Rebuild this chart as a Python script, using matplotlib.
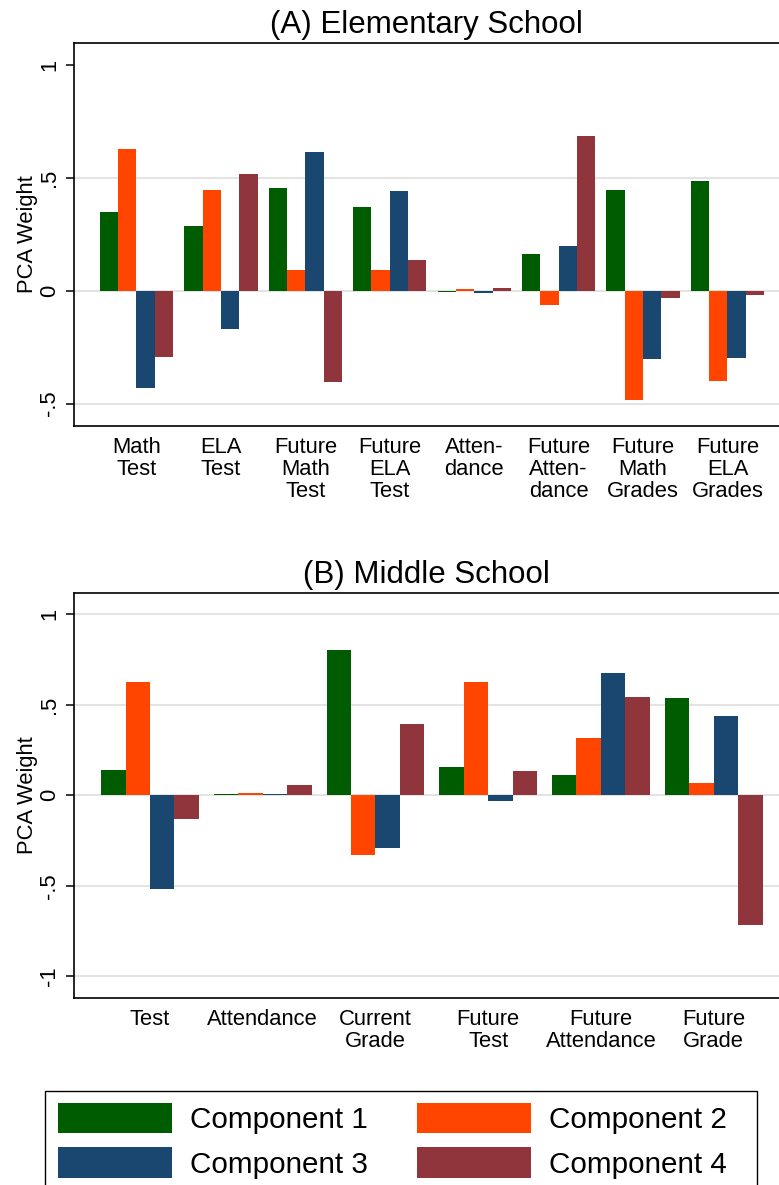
import matplotlib
matplotlib.use("Agg")
import matplotlib.pyplot as plt
from matplotlib.patches import Rectangle, Patch
import numpy as np

plt.rcParams['font.family'] = ['Liberation Sans', 'DejaVu Sans']

components = ['Component 1', 'Component 2', 'Component 3', 'Component 4']
colors = ['#005c00', '#ff4500', '#1a476f', '#90353b']

# (A) elementary school loadings
elem_labels = ['Math\nTest', 'ELA\nTest', 'Future\nMath\nTest', 'Future\nELA\nTest',
               'Atten-\ndance', 'Future\nAtten-\ndance', 'Future\nMath\nGrades', 'Future\nELA\nGrades']
elem_c1 = [0.348, 0.286, 0.454, 0.370, -0.006, 0.162, 0.446, 0.485]
elem_c2 = [0.627, 0.446, 0.093, 0.093, 0.009, -0.063, -0.484, -0.400]
elem_c3 = [-0.429, -0.172, 0.614, 0.441, -0.010, 0.199, -0.302, -0.298]
elem_c4 = [-0.292, 0.516, -0.403, 0.137, 0.013, 0.684, -0.032, -0.019]

# (B) middle school loadings
mid_labels = ['Test', 'Attendance', 'Current\nGrade', 'Future\nTest', 'Future\nAttendance', 'Future\nGrade']
mid_c1 = [0.141, 0.007, 0.805, 0.156, 0.114, 0.538]
mid_c2 = [0.626, 0.013, -0.328, 0.628, 0.318, 0.070]
mid_c3 = [-0.516, 0.005, -0.291, -0.030, 0.676, 0.438]
mid_c4 = [-0.129, 0.057, 0.394, 0.136, 0.543, -0.715]

elem_ticks = [1, 0.5, 0, -0.5]
elem_ticklabels = ['1', '.5', '0', '-.5']
mid_ticks = [1, 0.5, 0, -0.5, -1]
mid_ticklabels = ['1', '.5', '0', '-.5', '-1']

width = 0.217


def draw_panel(ax, labels, series, title, ticks, ticklabels, ylim, xlim, grid_at):
    x = np.arange(len(labels))
    for k, vals in enumerate(series):
        ax.bar(x + (k - 1.5) * width, vals, width, color=colors[k], linewidth=0, zorder=3)
    for g in grid_at:
        ax.axhline(g, color='#dedede', lw=1.2, zorder=1)
    ax.set_xlim(*xlim)
    ax.set_ylim(*ylim)
    ax.set_xticks(x)
    ax.set_xticklabels(labels, fontsize=15.8, linespacing=1.05, va='top')
    ax.tick_params(axis='x', length=0, pad=8)
    ax.set_yticks(ticks)
    ax.set_yticklabels(ticklabels, fontsize=15.8, rotation=90, va='center')
    ax.tick_params(axis='y', length=6, width=1.1, pad=4)
    ax.set_ylabel('PCA Weight', fontsize=15.8, labelpad=1)
    ax.set_title(title, fontsize=22.5, pad=7)
    for side in ['left', 'top', 'bottom']:
        ax.spines[side].set_linewidth(1.2)
    ax.spines['right'].set_visible(False)


fig = plt.figure(figsize=(7.79, 11.85), dpi=100)

axA = fig.add_axes([0.095, 0.6405, 0.905, 0.3235])
draw_panel(axA, elem_labels, [elem_c1, elem_c2, elem_c3, elem_c4], '(A) Elementary School',
           elem_ticks, elem_ticklabels, (-0.599, 1.097), (-0.74, 7.61), [0.5, 0, -0.5])

axB = fig.add_axes([0.095, 0.1578, 0.905, 0.342])
draw_panel(axB, mid_labels, [mid_c1, mid_c2, mid_c3, mid_c4], '(B) Middle School',
           mid_ticks, mid_ticklabels, (-1.12, 1.119), (-0.674, 5.58), mid_ticks)

# legend, two per row
order = [0, 2, 1, 3]
handles = [Patch(facecolor=colors[i], edgecolor='none') for i in order]
names = [components[i] for i in order]
fig.legend(handles, names, ncol=2, loc='upper left',
           bbox_to_anchor=(58 / 779, 1 - 1103 / 1185), frameon=False, fontsize=21.3,
           handlelength=3.85, handleheight=1.2, handletextpad=0.6, columnspacing=1.68,
           labelspacing=0.45, borderpad=0, borderaxespad=0)
fig.add_artist(Rectangle((45 / 779, -0.01), 712 / 779, 1 - 1091 / 1185 + 0.01,
                         transform=fig.transFigure, fill=False, edgecolor='black', lw=1.0))

fig.savefig('out.png', dpi=100)
